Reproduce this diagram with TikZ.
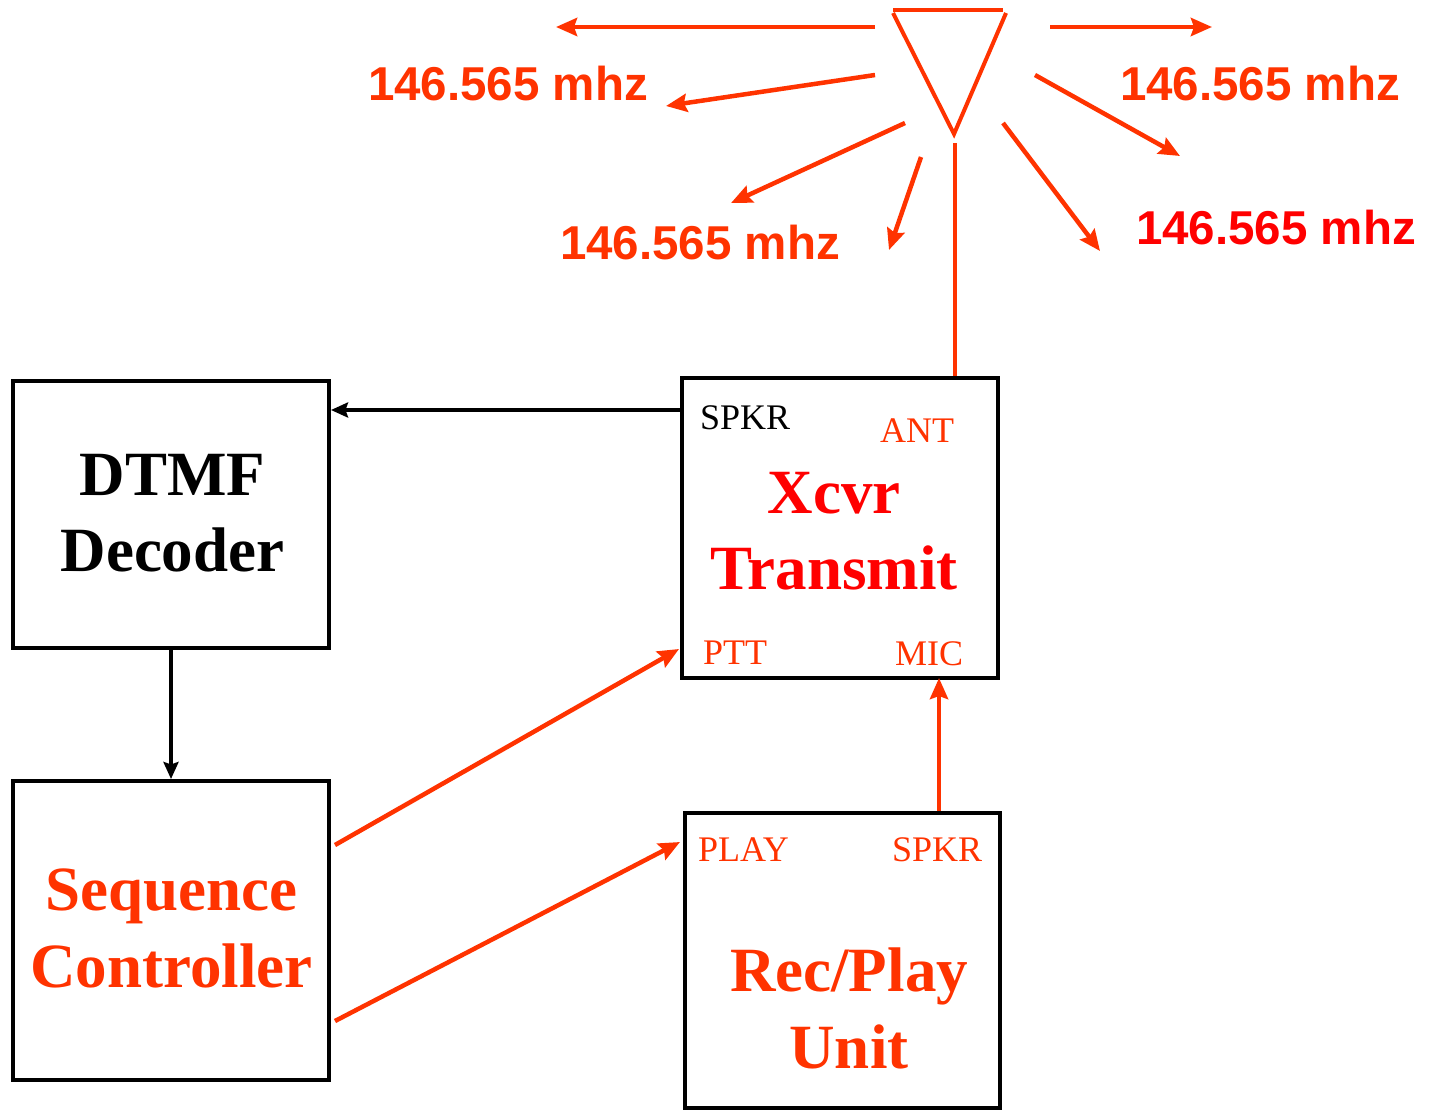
\documentclass[tikz,border=0pt]{standalone}
\usepackage{fontspec}
\setmainfont{Liberation Serif}
\newfontfamily\labfont{Liberation Sans}
\usetikzlibrary{arrows.meta,calc}
\definecolor{orng}{RGB}{255,51,0}
\definecolor{rd}{RGB}{255,0,0}
\begin{document}
\begin{tikzpicture}[x=1pt,y=-1pt,
  boxst/.style={draw=black,line width=4pt,inner sep=0pt},
  bigtxt/.style={font=\fontsize{63}{76.5}\selectfont\bfseries,align=center,anchor=north,inner sep=0pt},
  port/.style={font=\fontsize{36}{40}\selectfont,inner sep=0pt,anchor=base west},
  freq/.style={font=\labfont\fontsize{47.5}{50}\selectfont\bfseries,inner sep=0pt,anchor=base},
  tip/.style={-{Stealth[length=21pt,width=18pt,inset=3pt]}},
  ktip/.style={-{Stealth[length=17pt,width=15pt,inset=2.5pt]}},
  oarr/.style={tip,draw=orng,line width=4.5pt},
  karr/.style={ktip,draw=black,line width=3.5pt}]
\useasboundingbox (0,0) rectangle (1439,1111);
\fill[white] (0,0) rectangle (1439,1111);

% boxes
\node[boxst,minimum width=316pt,minimum height=267pt] (dtmf) at (171,514.5) {};
\node[boxst,minimum width=316pt,minimum height=300pt] (xcvr) at (840,528) {};
\node[boxst,minimum width=316pt,minimum height=299pt] (seq) at (171,930.5) {};
\node[boxst,minimum width=315pt,minimum height=295pt] (rec) at (842.5,960.5) {};

% box texts
\node[bigtxt,text=black] (dtmft) at (172.5,454) {DTMF\\Decoder};
\node[bigtxt,text=rd] (xcvrt) at (834,472) {Xcvr\\Transmit};
\node[bigtxt,text=orng] (seqt) at (171.5,869) {Sequence\\Controller};
\node[bigtxt,text=orng] (rect) at (849,948) {Rec/Play\\Unit};

% port labels
\node[port,text=black] (spkr1) at (700,429) {SPKR};
\node[port,text=orng] (ant) at (880,442) {ANT};
\node[port,text=orng] (ptt) at (703,664) {PTT};
\node[port,text=orng] (mic) at (895,665) {MIC};
\node[port,text=orng] (play) at (698,861) {PLAY};
\node[port,text=orng] (spkr2) at (892,861) {SPKR};

% frequency labels
\node[freq,text=orng] (f1) at (508,100) {146.565 mhz};
\node[freq,text=orng] (f2) at (1260,100) {146.565 mhz};
\node[freq,text=orng] (f3) at (700,259) {146.565 mhz};
\node[freq,text=rd] (f4) at (1276,244) {146.565 mhz};

% antenna
\coordinate (tl) at (893,10);
\coordinate (tr) at (1003,10);
\coordinate (apex) at (954,134);
\draw[orng,line width=4.5pt] (tl) -- (tr);
\draw[orng,line width=4pt,line join=miter] (893,13) -- (apex) -- (1006,13);
\coordinate (feed) at (955,143);
\draw[orng,line width=4pt] (feed) -- (xcvr.north -| feed);

% radiating arrows
\coordinate (r1s) at (875,27);   \coordinate (r1e) at (556,27);
\coordinate (r2s) at (1050,27);  \coordinate (r2e) at (1212,27);
\coordinate (r3s) at (875,75);   \coordinate (r3e) at (666,106);
\coordinate (r4s) at (905,123);  \coordinate (r4e) at (731,203);
\coordinate (r5s) at (921,157);  \coordinate (r5e) at (889,250);
\coordinate (r6s) at (1003,123); \coordinate (r6e) at (1100,251);
\coordinate (r7s) at (1035,75);  \coordinate (r7e) at (1180,156);
\foreach \i in {1,...,7} {\draw[oarr] (r\i s) -- (r\i e);}

% connectors
\draw[karr] (xcvr.west |- 0,410) -- (dtmf.east |- 0,410);
\draw[karr] (dtmf.south) -- (seq.north);
\draw[oarr] ([xshift=4pt]seq.east |- 0,845) -- ([xshift=-1pt]xcvr.west |- 0,649);
\draw[oarr] ([xshift=4pt]seq.east |- 0,1021) -- ([xshift=-3pt]rec.west |- 0,842);
\draw[oarr] (rec.north -| 939,0) -- ([yshift=2pt]xcvr.south -| 939,0);
\end{tikzpicture}
\end{document}
